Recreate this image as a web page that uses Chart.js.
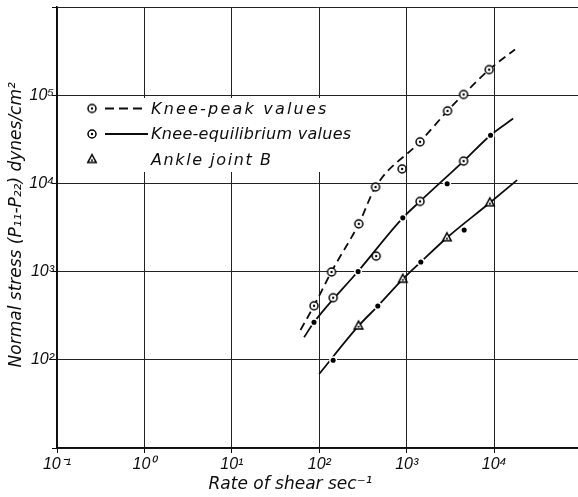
<!DOCTYPE html>
<html>
<head>
<meta charset="utf-8">
<script src="https://cdn.jsdelivr.net/npm/chart.js@4.4.0/dist/chart.umd.min.js"></script>
<style>
html,body{margin:0;padding:0;background:#fff;}
#wrap{width:578px;height:497px;}
</style>
</head>
<body>
<div id="wrap"><canvas id="c" width="578" height="497"></canvas></div>
<script>
// ---- axis ticks ----
const xTicks = [0.1, 1, 10, 100, 1000, 10000];
const xTickLabels = ['10\u207B\u00B9', '10\u2070', '10\u00B9', '10\u00B2', '10\u00B3', '10\u2074'];
const yTicks = [10, 100, 1000, 10000, 100000, 1000000];
const yTickLabels = ['', '10\u00B2', '10\u00B3', '10\u2074', '10\u2075', ''];

// ---- Knee-peak values (open circle with dot) ----
const peakX = [87, 138, 283, 440, 885, 1420, 2930, 4470, 8770];
const peakY = [410, 990, 3480, 9100, 14600, 29600, 66400, 102000, 195000];

// ---- Knee-equilibrium values ----
const eqOpenX = [144, 447, 1420, 4470];
const eqOpenY = [506, 1500, 6250, 17900];
const eqDotX = [87, 278, 902, 2900, 9100];
const eqDotY = [267, 1000, 4070, 9900, 35200];

// ---- Ankle joint B ----
const ankleTriX = [281, 902, 2880, 8930];
const ankleTriY = [242, 820, 2420, 6030];
const ankleDotX = [144, 467, 1450, 4540];
const ankleDotY = [99, 407, 1285, 2960];

// ---- fitted curves ----
const peakCurveX = [61, 87, 138, 283, 440, 1420, 2930, 4470, 8770, 17300];
const peakCurveY = [218, 410, 1000, 3480, 9100, 29600, 66400, 102000, 195000, 330000];
const eqCurveX = [67, 87, 278, 902, 1420, 4470, 9100, 16500];
const eqCurveY = [180, 267, 1010, 4070, 6250, 17900, 35200, 54400];
const ankleCurveX = [99.6, 281, 467, 902, 1450, 2880, 8930, 18300];
const ankleCurveY = [69, 242, 407, 820, 1285, 2420, 6030, 10900];

const legendLabels = ['Knee-peak values', 'Knee-equilibrium values', 'Ankle joint B'];

const INK = '#0d0d0d';
function pts(xs, ys) { return xs.map((x, i) => ({x: x, y: ys[i]})); }

function makeCircleDot(r) {
  const s = Math.ceil(r * 2 + 4);
  const c = document.createElement('canvas');
  c.width = s; c.height = s;
  const g = c.getContext('2d');
  g.fillStyle = '#fff'; g.strokeStyle = '#000'; g.lineWidth = 1.5;
  g.beginPath(); g.arc(s / 2, s / 2, r, 0, Math.PI * 2); g.fill(); g.stroke();
  g.fillStyle = '#000';
  g.beginPath(); g.arc(s / 2, s / 2, 1.2, 0, Math.PI * 2); g.fill();
  return c;
}
function makeTriangle(w) {
  const s = Math.ceil(w + 5);
  const c = document.createElement('canvas');
  c.width = s; c.height = s;
  const g = c.getContext('2d');
  const cx = s / 2, cy = s / 2;
  const h = w * 0.95;
  g.fillStyle = '#fff'; g.strokeStyle = '#000'; g.lineWidth = 1.5; g.lineJoin = 'miter';
  g.beginPath();
  g.moveTo(cx, cy - h * 0.62);
  g.lineTo(cx + w / 2, cy + h * 0.38);
  g.lineTo(cx - w / 2, cy + h * 0.38);
  g.closePath(); g.fill(); g.stroke();
  g.fillStyle = '#000';
  g.beginPath(); g.arc(cx, cy + h * 0.08, 1.0, 0, Math.PI * 2); g.fill();
  return c;
}
const circleImg = makeCircleDot(4.0);
const triImg = makeTriangle(8.5);

const legendSpacing = ['2.2px', '0.3px', '1.6px'];
const legendPlugin = {
  id: 'insideLegend',
  beforeDatasetsDraw(chart) {
    const ctx = chart.ctx;
    ctx.save();
    ctx.fillStyle = '#fff';
    ctx.fillRect(59, 98, 303, 74);
    const rows = [108.5, 134, 159.5];
    const mx = 92;
    ctx.drawImage(circleImg, mx - circleImg.width / 2, rows[0] - circleImg.height / 2);
    ctx.drawImage(circleImg, mx - circleImg.width / 2, rows[1] - circleImg.height / 2);
    ctx.drawImage(triImg, mx - triImg.width / 2, rows[2] - triImg.height / 2);
    ctx.strokeStyle = INK; ctx.lineWidth = 1.8;
    ctx.setLineDash([9, 5]);
    ctx.beginPath(); ctx.moveTo(105, rows[0]); ctx.lineTo(147, rows[0]); ctx.stroke();
    ctx.setLineDash([]);
    ctx.beginPath(); ctx.moveTo(105, rows[1]); ctx.lineTo(148, rows[1]); ctx.stroke();
    ctx.fillStyle = INK;
    ctx.font = 'italic 16px "DejaVu Sans"';
    ctx.textBaseline = 'middle';
    ctx.textAlign = 'left';
    legendLabels.forEach((t, i) => {
      try { ctx.letterSpacing = legendSpacing[i]; } catch (e) {}
      ctx.fillText(t, 151, rows[i] + 1);
    });
    ctx.restore();
  }
};

const lineBase = {
  showLine: true, pointRadius: 0, borderColor: INK, borderWidth: 1.8,
  cubicInterpolationMode: 'monotone', fill: false, order: 1
};

new Chart(document.getElementById('c'), {
  type: 'scatter',
  data: {
    datasets: [
      {label: 'peak', data: pts(peakX, peakY), pointStyle: circleImg, pointRadius: 4, order: 0},
      {label: 'eqOpen', data: pts(eqOpenX, eqOpenY), pointStyle: circleImg, pointRadius: 4, order: 0},
      {label: 'eqDot', data: pts(eqDotX, eqDotY), pointStyle: 'circle', pointRadius: 3.3,
        backgroundColor: '#000', borderColor: '#fff', borderWidth: 1.5, order: 0},
      {label: 'ankleTri', data: pts(ankleTriX, ankleTriY), pointStyle: triImg, pointRadius: 4, order: 0},
      {label: 'ankleDot', data: pts(ankleDotX, ankleDotY), pointStyle: 'circle', pointRadius: 3.3,
        backgroundColor: '#000', borderColor: '#fff', borderWidth: 1.5, order: 0},
      Object.assign({label: 'peakCurve', data: pts(peakCurveX, peakCurveY), borderDash: [8, 5]}, lineBase),
      Object.assign({label: 'eqCurve', data: pts(eqCurveX, eqCurveY)}, lineBase),
      Object.assign({label: 'ankleCurve', data: pts(ankleCurveX, ankleCurveY)}, lineBase)
    ]
  },
  options: {
    responsive: false,
    animation: false,
    devicePixelRatio: 1,
    layout: {autoPadding: false, padding: {top: 7, right: 0, bottom: 0, left: 0}},
    plugins: {legend: {display: false}, tooltip: {enabled: false}},
    scales: {
      x: {
        type: 'logarithmic', position: 'bottom', min: 0.1, max: 91000,
        afterBuildTicks: (s) => { s.ticks = xTicks.map(v => ({value: v})); },
        afterFit: (s) => { s.height = 49; s.paddingLeft = 0; s.paddingRight = 0; },
        ticks: {
          autoSkip: false, maxRotation: 0, minRotation: 0, padding: 2, color: INK,
          font: {family: '"Liberation Sans"', style: 'italic', size: 16},
          callback: (v) => { const i = xTicks.indexOf(v); return i >= 0 ? xTickLabels[i] : ''; }
        },
        grid: {color: '#222', lineWidth: 1, tickLength: 5, drawTicks: true, tickColor: INK},
        border: {color: INK, width: 1.6},
        title: {
          display: true,
          text: 'Rate of shear sec\u207B\u00B9' + '\u00A0'.repeat(10),
          color: INK, font: {family: '"DejaVu Sans"', style: 'italic', size: 17},
          padding: {top: 0, bottom: 2}
        }
      },
      y: {
        type: 'logarithmic', position: 'left', min: 10, max: 1000000,
        afterBuildTicks: (s) => { s.ticks = yTicks.map(v => ({value: v})); },
        afterFit: (s) => { s.width = 57; s.paddingTop = 0; s.paddingBottom = 0; },
        ticks: {
          autoSkip: false, padding: -2, color: INK,
          font: {family: '"Liberation Sans"', style: 'italic', size: 16},
          callback: (v) => { const i = yTicks.indexOf(v); return i >= 0 ? yTickLabels[i] : ''; }
        },
        grid: {color: '#222', lineWidth: 1, tickLength: 5, drawTicks: true, tickColor: INK},
        border: {color: INK, width: 1.6},
        title: {
          display: true,
          text: '\u00A0Normal stress (P\u2081\u2081-P\u2082\u2082) dynes/cm\u00B2',
          color: INK, font: {family: '"DejaVu Sans"', style: 'italic', size: 17},
          padding: {top: 6, bottom: 0}
        }
      }
    }
  },
  plugins: [legendPlugin]
});
</script>
</body>
</html>
